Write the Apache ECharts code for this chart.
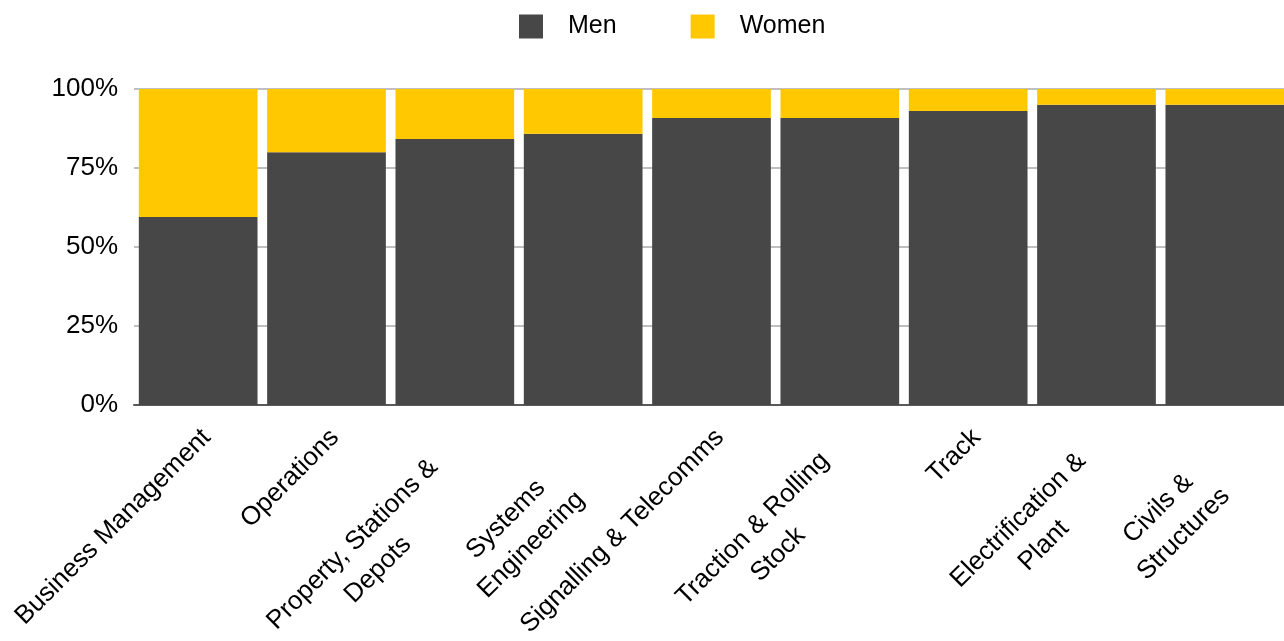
<!DOCTYPE html>
<html>
<head>
<meta charset="utf-8">
<script src="https://cdn.jsdelivr.net/npm/echarts@6/dist/echarts.min.js"></script>
<style>
html,body{margin:0;padding:0;background:#fff;}
#c{width:1284px;height:641px;}
</style>
</head>
<body>
<div id="c"></div>
<script>
// ---- data ----
const categories = [
  'Business Management',
  'Operations',
  'Property, Stations &\nDepots',
  'Systems\nEngineering',
  'Signalling & Telecomms',
  'Traction & Rolling\nStock',
  'Track',
  'Electrification &\nPlant',
  'Civils &\nStructures'
];
const menValues = [59.5, 80, 84.2, 85.8, 90.8, 90.8, 93, 95, 95];
const womenValues = [40.5, 20, 15.8, 14.2, 9.2, 9.2, 7, 5, 5];
const seriesNames = ['Men', 'Women'];

// ---- styling ----
const FONT = "'Liberation Sans', Arial, Helvetica, sans-serif";
const COLORS = { Men: '#474747', Women: '#FFC800' };
const LABEL_SIZE = 26;
const LINE_H = 36;
const LABEL_DROP = 24;
// how far (px, along text direction) each wrapped label is pulled back from its tick
const labelPullBack = { 2: 42, 3: 52, 5: 33, 7: 33, 8: 47 };

const xData = categories.map((c, i) => {
  const item = { value: c };
  if (labelPullBack[i] !== undefined) {
    const lines = c.split('\n').length;
    item.textStyle = { padding: [LINE_H * (lines - 1) + LABEL_DROP, labelPullBack[i], 0, 0] };
  }
  return item;
});

const chart = echarts.init(document.getElementById('c'), null, { renderer: 'canvas' });
chart.setOption({
  animation: false,
  backgroundColor: '#ffffff',
  textStyle: { fontFamily: FONT },
  legend: {
    left: 514,
    top: 9,
    itemWidth: 24,
    itemHeight: 24,
    itemGap: 74,
    icon: 'rect',
    data: seriesNames,
    textStyle: { fontSize: 25, color: '#000', fontFamily: FONT, padding: [0, 0, 0, 20] }
  },
  grid: { left: 134, top: 89, width: 1155, height: 316, containLabel: false, outerBoundsMode: 'none' },
  xAxis: {
    type: 'category',
    data: xData,
    axisLine: { show: true, lineStyle: { color: '#595959', width: 2 } },
    axisTick: { show: false },
    splitLine: { show: false },
    axisLabel: {
      interval: 0,
      rotate: 45,
      margin: 20,
      fontSize: LABEL_SIZE,
      color: '#000',
      fontFamily: FONT,
      lineHeight: LINE_H,
      padding: [LABEL_DROP, 0, 0, 0],
      formatter: v => v.split('\n').map(l => '{c|' + l + '}').join('\n'),
      rich: { c: { align: 'center', fontSize: LABEL_SIZE, lineHeight: LINE_H, color: '#000', fontFamily: FONT } }
    }
  },
  yAxis: {
    type: 'value',
    min: 0,
    max: 100,
    interval: 25,
    axisLine: { show: false },
    axisTick: { show: false },
    splitLine: { show: true, lineStyle: { color: '#bfbfbf', width: 2 } },
    axisLabel: { formatter: '{value}%', fontSize: 26, color: '#000', margin: 16, fontFamily: FONT }
  },
  series: [
    {
      name: 'Men', type: 'bar', stack: 'total', data: menValues,
      barCategoryGap: '7.5%', itemStyle: { color: COLORS.Men }
    },
    {
      name: 'Women', type: 'bar', stack: 'total', data: womenValues,
      barCategoryGap: '7.5%', itemStyle: { color: COLORS.Women }
    }
  ]
});
</script>
</body>
</html>
